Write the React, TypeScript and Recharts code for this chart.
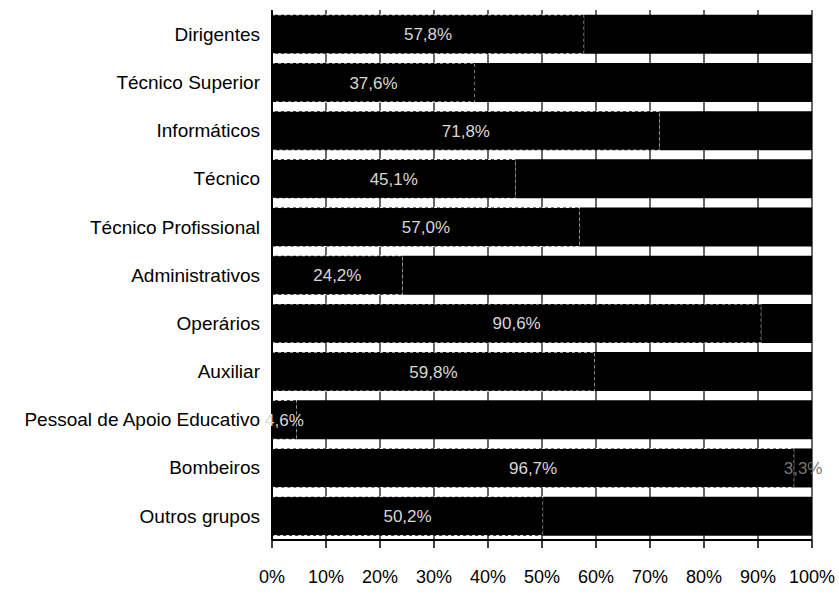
import React from 'react';
import {
  BarChart,
  Bar,
  XAxis,
  YAxis,
  CartesianGrid,
  LabelList
} from 'recharts';

const categories = [
  'Dirigentes',
  'Técnico Superior',
  'Informáticos',
  'Técnico',
  'Técnico Profissional',
  'Administrativos',
  'Operários',
  'Auxiliar',
  'Pessoal de Apoio Educativo',
  'Bombeiros',
  'Outros grupos'
];

// share (%) of the first segment
const firstShare = [57.8, 37.6, 71.8, 45.1, 57.0, 24.2, 90.6, 59.8, 4.6, 96.7, 50.2];
const secondShare = [42.2, 62.4, 28.2, 54.9, 43.0, 75.8, 9.4, 40.2, 95.4, 3.3, 49.8];

const xTicks = [0, 10, 20, 30, 40, 50, 60, 70, 80, 90, 100];

const data = categories.map((name, i) => ({
  name,
  a: firstShare[i],
  b: secondShare[i]
}));

const fmt = (v: number) => v.toFixed(1).replace('.', ',') + '%';

const App: React.FC = () => {
  return (
    <div style={{ position: 'absolute', left: 0, top: 0, background: '#fff' }}>
      <BarChart
        width={839}
        height={602}
        data={data}
        layout="vertical"
        margin={{ top: 10, right: 27, bottom: 2, left: 0 }}
        barCategoryGap="10%"
        style={{ fontFamily: 'Liberation Sans, Arial, sans-serif' }}
      >
        <CartesianGrid horizontal={false} vertical={true} stroke="#333" strokeWidth={1.5} />
        <XAxis
          type="number"
          domain={[0, 100]}
          ticks={xTicks}
          tickFormatter={(v: number) => `${v}%`}
          axisLine={{ stroke: '#000', strokeWidth: 2 }}
          tickLine={{ stroke: '#000', strokeWidth: 1.5 }}
          tickSize={8}
          tickMargin={22}
          height={60}
          tick={{ fill: '#000', fontSize: 18 }}
          interval={0}
        />
        <YAxis
          type="category"
          dataKey="name"
          width={272}
          axisLine={{ stroke: '#000', strokeWidth: 2 }}
          tickLine={false}
          tickMargin={6}
          tick={{ fill: '#000', fontSize: 19 }}
          interval={0}
        />
        <Bar dataKey="a" stackId="s" fill="#000" stroke="#fff" strokeDasharray="3 3" strokeWidth={1} isAnimationActive={false}>
          <LabelList dataKey="a" position="center" formatter={(v: number) => fmt(v)} fill="#d8d8d8" fontSize={17} />
        </Bar>
        <Bar dataKey="b" stackId="s" fill="#000" isAnimationActive={false}>
          <LabelList
            dataKey="b"
            position="center"
            formatter={(v: number) => (v < 5 ? fmt(v) : '')}
            fill="#777"
            fontSize={17}
          />
        </Bar>
      </BarChart>
    </div>
  );
};

export default App;
